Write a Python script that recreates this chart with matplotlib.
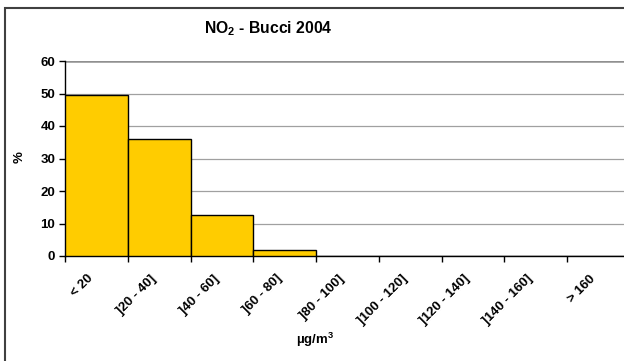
import matplotlib
matplotlib.use("Agg")
import matplotlib.pyplot as plt
import matplotlib.transforms as mtransforms
import numpy as np
from matplotlib.patches import Rectangle

plt.rcParams['font.family'] = ['Liberation Sans', 'DejaVu Sans']

categories = ['< 20', ']20 - 40]', ']40 - 60]', ']60 - 80]', ']80 - 100]',
              ']100 - 120]', ']120 - 140]', ']140 - 160]', '> 160']
percent = [49.6, 36.0, 12.7, 1.8, 0.0, 0.0, 0.0, 0.0, 0.0]

W, H = 624, 361
fig = plt.figure(figsize=(W / 100, H / 100), dpi=100)

# chart border, cut off at the right and bottom in the original
fig.patches.append(Rectangle((5 / W, -0.5), 2.0, 1.5 - 8 / H, transform=fig.transFigure,
                             fill=False, edgecolor='#404040', linewidth=1.5))

# plot area in pixels: x 65..630, y 61..256 (from top)
ax = fig.add_axes([65 / W, (H - 256) / H, 565 / W, 195 / H])

x = np.arange(len(categories))
ax.bar(x, percent, width=1.0, align='edge', color='#FFCC00',
       edgecolor='black', linewidth=1.0, zorder=3)

ax.set_xlim(0, len(categories))
ax.set_ylim(0, 60)
ax.set_yticks(np.arange(0, 61, 10))
for yv in range(10, 60, 10):
    ax.axhline(yv, color='#A0A0A0', linewidth=0.9, zorder=1)
ax.axhline(60, color='#909090', linewidth=1.8, zorder=1)

ax.set_xticks(np.arange(0, len(categories) + 1))
ax.set_xticklabels([])
ax.set_xticks(x + 0.5, minor=True)
ax.set_xticklabels(categories, minor=True, rotation=45, ha='right', va='center',
                   rotation_mode='anchor', fontsize=9.5, fontweight='bold')
ax.tick_params(axis='x', which='minor', length=0, pad=15)
ax.tick_params(axis='x', which='major', length=4, direction='out', width=1)
ax.tick_params(axis='y', length=4, width=1, labelsize=9.5, pad=3)
for lab in ax.get_yticklabels():
    lab.set_fontweight('bold')
shift = mtransforms.ScaledTranslation(-5 / 100, 0, fig.dpi_scale_trans)
for lab in ax.get_xticklabels(minor=True):
    lab.set_transform(lab.get_transform() + shift)

for side in ['top', 'right']:
    ax.spines[side].set_visible(False)
ax.spines['left'].set_linewidth(1.0)
ax.spines['bottom'].set_linewidth(1.0)

fig.text(268 / W, 1 - 29 / H, 'NO$_\\mathregular{2}$ - Bucci 2004', ha='center', va='center',
         fontsize=11.3, fontweight='bold')
fig.text(20 / W, 1 - 157 / H, '%', rotation=90, ha='center', va='center',
         fontsize=9.5, fontweight='bold')
fig.text(315 / W, 1 - 340 / H, 'µg/m$^\\mathregular{3}$', ha='center', va='center',
         fontsize=9.5, fontweight='bold')

fig.savefig('out.png', dpi=100)
